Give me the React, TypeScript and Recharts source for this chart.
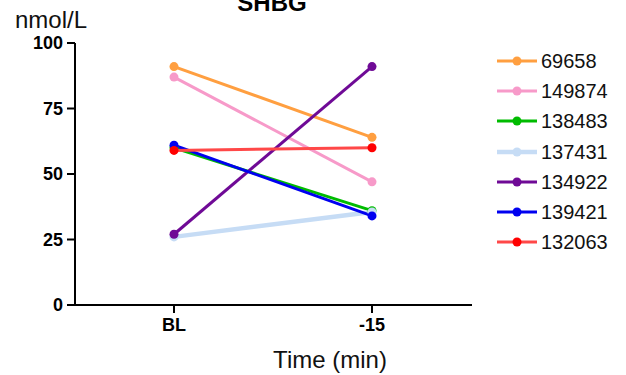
import React from 'react';
import { LineChart, Line, XAxis, YAxis } from 'recharts';

const categories = ['BL', '-15'];
const seriesNames = ['69658', '149874', '138483', '137431', '134922', '139421', '132063'];
const lineColors = ['#FF9F40', '#F79AC9', '#00BB00', '#C6DCF5', '#6F0A96', '#0000F0', '#FF4848'];
const dotColors = ['#FF9F40', '#F79AC9', '#00BB00', '#C6DCF5', '#6F0A96', '#0000F0', '#FF0000'];
const lineWidths = [3, 3, 3, 4.5, 3, 3, 3];

const s69658 = [91, 64];
const s149874 = [87, 47];
const s138483 = [60, 36];
const s137431 = [26, 35.5];
const s134922 = [27, 91];
const s139421 = [61, 34];
const s132063 = [59, 60];
const seriesValues = [s69658, s149874, s138483, s137431, s134922, s139421, s132063];

const yTicks = [0, 25, 50, 75, 100];

const data = categories.map((c, i) => {
  const row: any = { time: c };
  seriesNames.forEach((n, k) => {
    row['s' + n] = seriesValues[k][i];
  });
  return row;
});

const FONT = '"Liberation Sans", Arial, sans-serif';

const LegendBox = () => (
  <div style={{ position: 'absolute', left: 497, top: 46, width: 130, fontFamily: FONT }}>
    {seriesNames.map((n, k) => (
      <div key={n} style={{ display: 'flex', alignItems: 'center', height: 30.2 }}>
        <svg width={40} height={12} style={{ display: 'block' }}>
          <line x1={0} y1={6} x2={40} y2={6} stroke={lineColors[k]} strokeWidth={lineWidths[k]} />
          <circle cx={20} cy={6} r={4.5} fill={dotColors[k]} />
        </svg>
        <span style={{ marginLeft: 4, fontSize: 20, color: '#111', lineHeight: '20px' }}>{n}</span>
      </div>
    ))}
  </div>
);

export default function App() {
  return (
    <div style={{ position: 'absolute', left: 0, top: 0, width: 626, height: 375, background: '#fff', fontFamily: FONT }}>
      <LineChart
        width={626}
        height={375}
        data={data}
        margin={{ top: 43, right: 154, bottom: 40, left: 15 }}
      >
        <XAxis
          dataKey="time"
          type="category"
          scale="point"
          padding={{ left: 99, right: 100 }}
          height={30}
          axisLine={{ stroke: '#000', strokeWidth: 2 }}
          tickLine={{ stroke: '#000', strokeWidth: 2 }}
          tickSize={8}
          tickMargin={5}
          tick={{ fill: '#000', fontSize: 18, fontWeight: 'bold', fontFamily: FONT }}
        />
        <YAxis
          domain={[0, 100]}
          ticks={yTicks}
          width={60}
          axisLine={{ stroke: '#000', strokeWidth: 2 }}
          tickLine={{ stroke: '#000', strokeWidth: 2 }}
          tickSize={8}
          tickMargin={4}
          tick={{ fill: '#000', fontSize: 18, fontWeight: 'bold', fontFamily: FONT }}
        />
        {seriesNames.map((n, k) => (
          <Line
            key={n}
            dataKey={'s' + n}
            name={n}
            stroke={lineColors[k]}
            strokeWidth={lineWidths[k]}
            dot={{ r: 4.5, fill: dotColors[k], stroke: 'none' }}
            activeDot={false}
            isAnimationActive={false}
          />
        ))}
      </LineChart>
      <LegendBox />
      <svg width={626} height={375} style={{ position: 'absolute', left: 0, top: 0, pointerEvents: 'none' }}>
        <text x={272} y={11} textAnchor="middle" fontSize={24} fontWeight="bold" fontFamily={FONT} fill="#000">SHBG</text>
        <text x={15} y={28} fontSize={24} fontFamily={FONT} fill="#111">nmol/L</text>
        <text x={330} y={368} textAnchor="middle" fontSize={24} fontFamily={FONT} fill="#111">Time (min)</text>
      </svg>
    </div>
  );
}
